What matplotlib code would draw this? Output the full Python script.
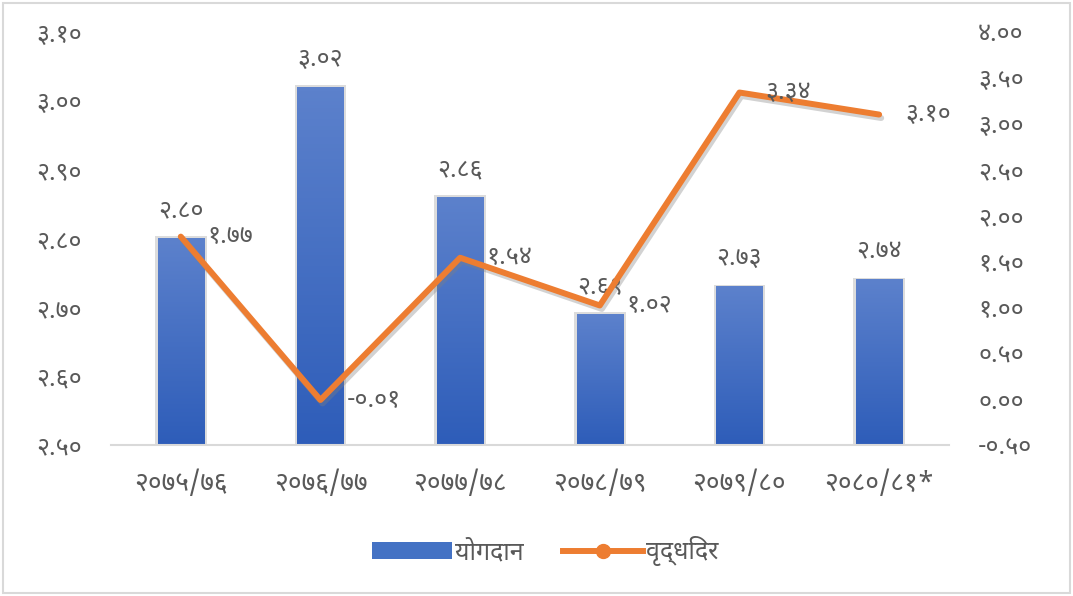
import numpy as np
import matplotlib
matplotlib.use("Agg")
import matplotlib.pyplot as plt
import matplotlib.patheffects as pe
from matplotlib import font_manager
from matplotlib.colors import LinearSegmentedColormap
from matplotlib.lines import Line2D
from matplotlib.patches import Patch, Rectangle

# data
categories = ["२०७५/७६", "२०७६/७७", "२०७७/७८", "२०७८/७९", "२०७९/८०", "२०८०/८१*"]
yogdan = [2.80, 3.02, 2.86, 2.69, 2.73, 2.74]
vriddhi = [1.77, -0.01, 1.54, 1.02, 3.34, 3.10]
left_ticks = [2.50, 2.60, 2.70, 2.80, 2.90, 3.00, 3.10]
right_ticks = [-0.50, 0.00, 0.50, 1.00, 1.50, 2.00, 2.50, 3.00, 3.50, 4.00]
legend_labels = ["योगदान", "वृद्धिदर"]

DEV = str.maketrans("0123456789", "०१२३४५६७८९")


def dev(v):
    return f"{v:.2f}".translate(DEV)


# pick a Devanagari font that is actually installed
names = {f.name for f in font_manager.fontManager.ttflist}
wanted = ["Noto Sans Devanagari", "Hind", "Mukta", "Amiko", "FreeSans"]
plt.rcParams["font.family"] = [n for n in wanted if n in names] + ["DejaVu Sans"]

grey = "#595959"
blue = "#4472C4"
orange = "#ED7D31"
fs = 18

fig = plt.figure(figsize=(10.73, 5.96), dpi=100)
ax = fig.add_axes([0.1034, 0.2534, 0.781, 0.693])
ax2 = ax.twinx()

x = np.arange(len(categories))
w = 0.33
bars = ax.bar(x, yogdan, width=w, color=blue, zorder=2)

# gradient fill + soft shadow for each bar
cmap = LinearSegmentedColormap.from_list("g", ["#2E5DB9", "#5C81CC"])
grad = np.linspace(0, 1, 100).reshape(-1, 1)
for b, v in zip(bars, yogdan):
    x0 = b.get_x()
    ax.add_patch(Rectangle((x0 - 0.02, 2.5), w + 0.04, v - 2.5 + 0.003,
                           color="#BBBBBB", alpha=0.5, zorder=1, lw=0))
    ax.imshow(grad, extent=[x0, x0 + w, 2.5, v], origin="lower", aspect="auto",
              cmap=cmap, zorder=2.5)
    ax.annotate(dev(v), (b.get_x() + w / 2, v), xytext=(0, 11),
                textcoords="offset points", ha="center", va="bottom",
                fontsize=fs, color=grey)

ax.set_xlim(-0.5, len(categories) - 0.5)
ax.set_ylim(2.5, 3.1)
ax.set_yticks(left_ticks)
ax.set_yticklabels([dev(t) for t in left_ticks])
ax.set_xticks(x)
ax.set_xticklabels(categories)

ax2.plot(x, vriddhi, color=orange, lw=4.3, solid_capstyle="round", zorder=3,
         path_effects=[pe.SimpleLineShadow(offset=(1.5, -2.5), shadow_color="#808080", alpha=0.35),
                       pe.Normal()])
for xi, v in zip(x, vriddhi):
    ax2.annotate(dev(v), (xi, v), xytext=(19, 0), textcoords="offset points",
                 ha="left", va="center", fontsize=fs, color=grey)
ax2.set_ylim(-0.5, 4.0)
ax2.set_yticks(right_ticks)
ax2.set_yticklabels([dev(t) for t in right_ticks])

for a in (ax, ax2):
    for s in a.spines.values():
        s.set_visible(False)
    a.tick_params(length=0, labelsize=fs, colors=grey)
ax.spines["bottom"].set_visible(True)
ax.spines["bottom"].set_color("#D9D9D9")
ax.spines["bottom"].set_linewidth(1.5)
ax.tick_params(axis="y", pad=21)
ax.tick_params(axis="x", pad=18, labelsize=19)
ax2.tick_params(axis="y", pad=21)

handles = [Patch(facecolor=blue),
           Line2D([0], [0], color=orange, lw=4.3, marker="o", markersize=10)]
fig.legend(handles, legend_labels, loc="center", bbox_to_anchor=(0.508, 0.075),
           ncol=2, frameon=False, fontsize=fs, labelcolor=grey,
           handlelength=3.2, handletextpad=0.1, columnspacing=1.6)

fig.patches.append(Rectangle((0.003, 0.005), 0.994, 0.99, transform=fig.transFigure,
                             fill=False, edgecolor="#D9D9D9", lw=1.5))

fig.savefig("out.png", dpi=100)
